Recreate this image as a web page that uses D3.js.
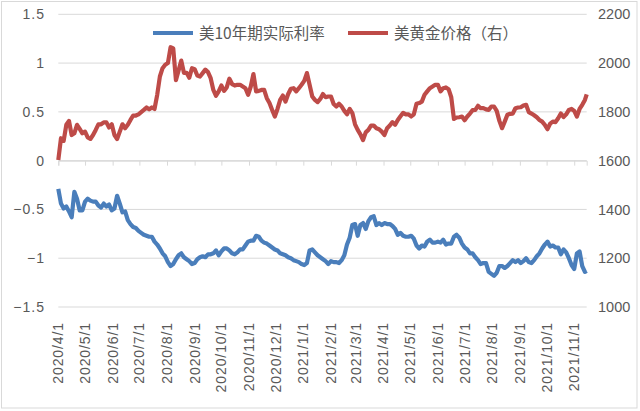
<!DOCTYPE html>
<html>
<head>
<meta charset="utf-8">
<script src="https://cdn.jsdelivr.net/npm/d3@7"></script>
<style>
  body { margin: 0; background: #fff; }
  svg text { font-family: "Liberation Sans", "Noto Sans CJK SC", sans-serif; fill: #595959; }
  .legend text { font-family: "Noto Sans CJK SC", sans-serif; }
</style>
</head>
<body>
<div id="chart"></div>
<script>
// sample dates (roughly every 3 days)
const dates = [
  "2020-04-01","2020-04-04","2020-04-07","2020-04-10","2020-04-13","2020-04-16","2020-04-19","2020-04-22","2020-04-25","2020-04-28",
  "2020-05-01","2020-05-04","2020-05-07","2020-05-10","2020-05-13","2020-05-16","2020-05-19","2020-05-22","2020-05-25","2020-05-28","2020-05-31",
  "2020-06-03","2020-06-06","2020-06-09","2020-06-12","2020-06-15","2020-06-18","2020-06-21","2020-06-24","2020-06-27","2020-06-30",
  "2020-07-03","2020-07-06","2020-07-09","2020-07-12","2020-07-15","2020-07-18","2020-07-21","2020-07-24","2020-07-27","2020-07-30",
  "2020-08-02","2020-08-05","2020-08-08","2020-08-11","2020-08-14","2020-08-17","2020-08-20","2020-08-23","2020-08-26","2020-08-29",
  "2020-09-01","2020-09-04","2020-09-07","2020-09-10","2020-09-13","2020-09-16","2020-09-19","2020-09-22","2020-09-25","2020-09-28",
  "2020-10-01","2020-10-04","2020-10-07","2020-10-10","2020-10-13","2020-10-16","2020-10-19","2020-10-22","2020-10-25","2020-10-28","2020-10-31",
  "2020-11-03","2020-11-06","2020-11-09","2020-11-12","2020-11-15","2020-11-18","2020-11-21","2020-11-24","2020-11-27","2020-11-30",
  "2020-12-03","2020-12-06","2020-12-09","2020-12-12","2020-12-15","2020-12-18","2020-12-21","2020-12-24","2020-12-27","2020-12-30",
  "2021-01-02","2021-01-05","2021-01-08","2021-01-11","2021-01-14","2021-01-17","2021-01-20","2021-01-23","2021-01-26","2021-01-29",
  "2021-02-01","2021-02-04","2021-02-07","2021-02-10","2021-02-13","2021-02-16","2021-02-19","2021-02-22","2021-02-25","2021-02-28",
  "2021-03-03","2021-03-06","2021-03-09","2021-03-12","2021-03-15","2021-03-18","2021-03-21","2021-03-24","2021-03-27","2021-03-30",
  "2021-04-02","2021-04-05","2021-04-08","2021-04-11","2021-04-14","2021-04-17","2021-04-20","2021-04-23","2021-04-26","2021-04-29",
  "2021-05-02","2021-05-05","2021-05-08","2021-05-11","2021-05-14","2021-05-17","2021-05-20","2021-05-23","2021-05-26","2021-05-29",
  "2021-06-01","2021-06-04","2021-06-07","2021-06-10","2021-06-13","2021-06-16","2021-06-19","2021-06-22","2021-06-25","2021-06-28",
  "2021-07-01","2021-07-04","2021-07-07","2021-07-10","2021-07-13","2021-07-16","2021-07-19","2021-07-22","2021-07-25","2021-07-28","2021-07-31",
  "2021-08-03","2021-08-06","2021-08-09","2021-08-12","2021-08-15","2021-08-18","2021-08-21","2021-08-24","2021-08-27","2021-08-30",
  "2021-09-02","2021-09-05","2021-09-08","2021-09-11","2021-09-14","2021-09-17","2021-09-20","2021-09-23","2021-09-26","2021-09-29",
  "2021-10-02","2021-10-05","2021-10-08","2021-10-11","2021-10-14","2021-10-17","2021-10-20","2021-10-23","2021-10-26","2021-10-29",
  "2021-11-01","2021-11-04","2021-11-07","2021-11-10","2021-11-13","2021-11-15"
];

// 美10年期实际利率 (left axis)
const realRate = [
  -0.29,-0.44,-0.49,-0.47,-0.52,-0.58,-0.32,-0.39,-0.51,-0.51,
  -0.42,-0.39,-0.41,-0.42,-0.42,-0.46,-0.48,-0.44,-0.47,-0.45,-0.51,
  -0.49,-0.36,-0.44,-0.53,-0.52,-0.61,-0.65,-0.68,-0.69,-0.72,
  -0.74,-0.76,-0.77,-0.78,-0.78,-0.83,-0.86,-0.90,-0.95,-0.98,
  -1.04,-1.08,-1.06,-1.01,-0.97,-0.95,-0.99,-1.01,-1.03,-1.06,
  -1.05,-1.01,-0.99,-0.98,-0.99,-0.96,-0.96,-0.95,-0.92,-0.97,
  -0.93,-0.90,-0.90,-0.92,-0.95,-0.96,-0.94,-0.91,-0.91,-0.87,-0.83,
  -0.82,-0.82,-0.77,-0.78,-0.82,-0.84,-0.85,-0.87,-0.89,-0.91,
  -0.92,-0.95,-0.96,-0.97,-0.99,-1.00,-1.02,-1.03,-1.04,-1.06,
  -1.07,-1.05,-0.92,-0.91,-0.94,-0.97,-0.99,-1.01,-1.03,-1.06,
  -1.03,-1.04,-1.04,-1.05,-1.02,-0.97,-0.86,-0.79,-0.66,-0.65,
  -0.77,-0.66,-0.64,-0.70,-0.62,-0.58,-0.57,-0.66,-0.64,-0.66,
  -0.64,-0.65,-0.65,-0.67,-0.70,-0.76,-0.74,-0.77,-0.78,-0.78,
  -0.77,-0.80,-0.87,-0.90,-0.87,-0.88,-0.83,-0.81,-0.84,-0.84,
  -0.83,-0.84,-0.81,-0.86,-0.85,-0.85,-0.78,-0.76,-0.79,-0.85,
  -0.89,-0.91,-0.95,-0.95,-0.99,-1.02,-1.06,-1.05,-1.05,-1.14,-1.16,
  -1.18,-1.15,-1.08,-1.08,-1.10,-1.08,-1.05,-1.02,-1.04,-1.02,
  -1.05,-1.03,-1.00,-1.04,-1.05,-1.02,-0.98,-0.95,-0.90,-0.86,
  -0.83,-0.88,-0.87,-0.89,-0.89,-0.96,-0.91,-0.94,-1.00,-1.07,
  -1.11,-0.95,-0.93,-1.08,-1.14,-1.13
];

// 美黄金价格 (right axis)
const goldPrice = [
  1603,1692,1681,1747,1763,1705,1712,1747,1730,1712,
  1719,1695,1689,1705,1726,1749,1749,1757,1757,1736,1749,
  1705,1689,1719,1749,1733,1747,1767,1785,1785,1790,
  1799,1808,1818,1810,1818,1812,1870,1945,1979,1993,
  2000,2065,2060,1930,1970,2010,1960,1960,1940,1979,
  1975,1949,1945,1959,1973,1963,1938,1890,1866,1884,
  1908,1886,1900,1936,1914,1908,1911,1911,1904,1897,1870,
  1904,1955,1884,1886,1890,1890,1856,1836,1808,1781,
  1812,1849,1867,1842,1873,1895,1897,1884,1897,1911,
  1927,1959,1911,1863,1849,1840,1853,1873,1860,1863,
  1863,1832,1822,1833,1822,1804,1790,1812,1795,1749,
  1726,1708,1684,1716,1726,1744,1744,1733,1729,1719,
  1705,1733,1744,1758,1747,1767,1782,1796,1790,1790,
  1781,1790,1833,1836,1842,1870,1884,1897,1904,1911,
  1911,1884,1897,1900,1893,1860,1771,1777,1778,1781,
  1766,1781,1793,1807,1808,1825,1815,1815,1810,1808,1822,
  1822,1804,1763,1733,1760,1788,1792,1793,1815,1818,
  1819,1826,1829,1799,1793,1786,1778,1767,1760,1747,
  1729,1752,1760,1758,1774,1793,1779,1790,1808,1812,
  1804,1781,1812,1829,1849,1872
];

const monthTicks = ["2020/4/1","2020/5/1","2020/6/1","2020/7/1","2020/8/1","2020/9/1","2020/10/1","2020/11/1","2020/12/1",
  "2021/1/1","2021/2/1","2021/3/1","2021/4/1","2021/5/1","2021/6/1","2021/7/1","2021/8/1","2021/9/1","2021/10/1","2021/11/1"];
const leftTicks = [-1.5, -1, -0.5, 0, 0.5, 1, 1.5];
const rightTicks = [1000, 1200, 1400, 1600, 1800, 2000, 2200];
const seriesNames = ["美10年期实际利率", "美黄金价格（右）"];
const seriesColors = ["#4a7ebb", "#be4b48"];

const width = 640, height = 411;
const plot = { left: 58.3, right: 586.7, top: 14.3, bottom: 307 };

const svg = d3.select("#chart").append("svg")
  .attr("width", width)
  .attr("height", height);

// chart border
svg.append("rect")
  .attr("x", 1.5).attr("y", 1.5)
  .attr("width", 635.5).attr("height", 406.5)
  .attr("fill", "none")
  .attr("stroke", "#d9d9d9");

const parseDay = d3.timeParse("%Y-%m-%d");
const parseTick = d3.timeParse("%Y/%m/%d");

const x = d3.scaleTime()
  .domain([parseDay(dates[0]), parseDay(dates[dates.length - 1])])
  .range([plot.left, plot.right]);

const yL = d3.scaleLinear().domain([-1.5, 1.5]).range([plot.bottom, plot.top]);
const yR = d3.scaleLinear().domain([1000, 2200]).range([plot.bottom, plot.top]);

// gridlines
svg.append("g")
  .selectAll("line")
  .data(leftTicks)
  .join("line")
  .attr("x1", plot.left).attr("x2", plot.right)
  .attr("y1", d => yL(d)).attr("y2", d => yL(d))
  .attr("stroke", "#d9d9d9")
  .attr("stroke-width", 1);

// x axis line sits at zero, labels low
const tickDates = monthTicks.map(parseTick);
const xAxis = svg.append("g")
  .attr("transform", `translate(0, ${yL(0)})`)
  .call(d3.axisBottom(x).tickValues(tickDates).tickSize(5).tickFormat(""));
xAxis.select(".domain").attr("stroke", "#d9d9d9");
xAxis.selectAll(".tick line").attr("stroke", "#d9d9d9");

svg.append("g")
  .selectAll("text")
  .data(monthTicks)
  .join("text")
  .attr("transform", d => `translate(${x(parseTick(d))}, 322) rotate(-90)`)
  .attr("text-anchor", "end")
  .attr("dy", "0.35em")
  .attr("font-size", 14)
  .attr("letter-spacing", 0.9)
  .text(d => d);

// left axis labels
svg.append("g")
  .selectAll("text")
  .data(leftTicks)
  .join("text")
  .attr("x", 45)
  .attr("y", d => yL(d))
  .attr("dy", "0.35em")
  .attr("text-anchor", "end")
  .attr("font-size", 14)
  .attr("letter-spacing", 1)
  .text(d => d3.format("")(d));

// right axis labels
svg.append("g")
  .selectAll("text")
  .data(rightTicks)
  .join("text")
  .attr("x", 598)
  .attr("y", d => yR(d))
  .attr("dy", "0.35em")
  .attr("text-anchor", "start")
  .attr("font-size", 14.5)
  .text(d => d);

const rateData = dates.map((d, i) => ({ date: parseDay(d), v: realRate[i] }));
const goldData = dates.map((d, i) => ({ date: parseDay(d), v: goldPrice[i] }));

svg.append("path")
  .datum(goldData)
  .attr("fill", "none")
  .attr("stroke", seriesColors[1])
  .attr("stroke-width", 4.2)
  .attr("stroke-linejoin", "round")
  .attr("d", d3.line().x(d => x(d.date)).y(d => yR(d.v)));

svg.append("path")
  .datum(rateData)
  .attr("fill", "none")
  .attr("stroke", seriesColors[0])
  .attr("stroke-width", 4.2)
  .attr("stroke-linejoin", "round")
  .attr("d", d3.line().x(d => x(d.date)).y(d => yL(d.v)));

// legend
const legend = svg.append("g").attr("class", "legend");
const legendX = [153, 348];
seriesNames.forEach((name, i) => {
  legend.append("line")
    .attr("x1", legendX[i]).attr("x2", legendX[i] + 40)
    .attr("y1", 33).attr("y2", 33)
    .attr("stroke", seriesColors[i])
    .attr("stroke-width", 4);
  legend.append("text")
    .attr("x", legendX[i] + 46)
    .attr("y", 38.5)
    .attr("font-size", 15.5)
    .text(name);
});
</script>
</body>
</html>
